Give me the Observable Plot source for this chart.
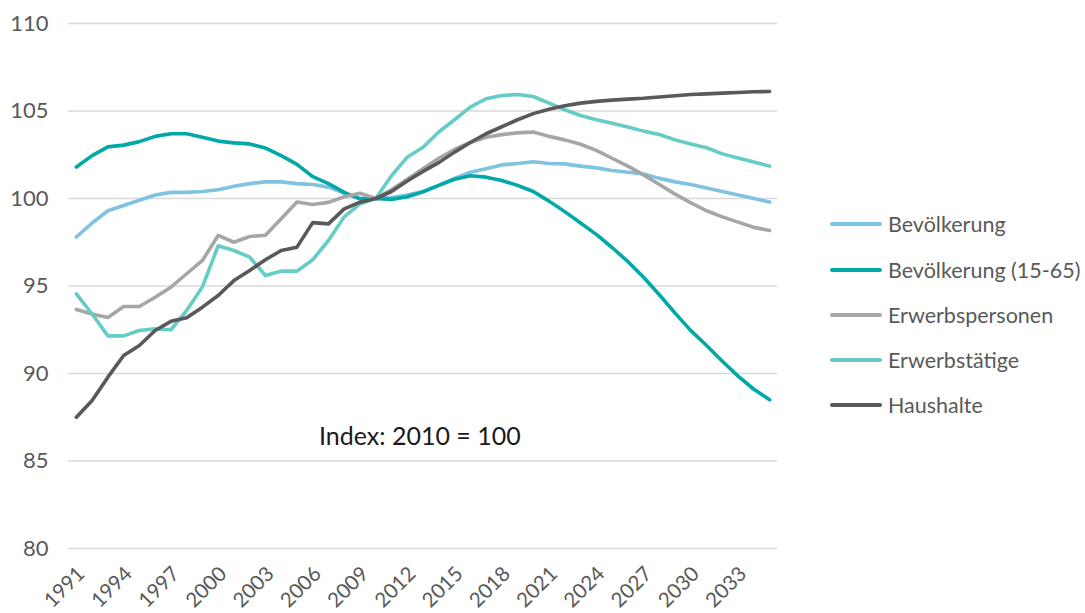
<!DOCTYPE html>
<html>
<head>
<meta charset="utf-8">
<script src="https://cdn.jsdelivr.net/npm/d3@7"></script>
<script src="https://cdn.jsdelivr.net/npm/@observablehq/plot@0.6"></script>
<style>
  html, body { margin: 0; padding: 0; background: #fff; }
  #wrap { position: relative; width: 1085px; height: 613px; font-family: Lato, "Open Sans", sans-serif; }
  #legend { position: absolute; left: 830px; top: 0; }
  .item { position: absolute; left: 0; display: flex; align-items: center; white-space: nowrap; transform: translateY(-50%); }
  .swatch { width: 52px; height: 3.5px; border-radius: 2px; margin-right: 6px; }
  .lab { font-size: 21.5px; color: #595959; }
</style>
</head>
<body>
<div id="wrap"><div id="chart"></div><div id="legend"></div></div>
<script>
const years = d3.range(1991, 2036);
const seriesNames = ["Bevölkerung", "Bevölkerung (15-65)", "Erwerbspersonen", "Erwerbstätige", "Haushalte"];
const seriesColors = ["#7fc3e0", "#00a8a8", "#a6a6a6", "#66ccc6", "#595959"];

const bevoelkerung = [97.8, 98.6, 99.3, 99.6, 99.9, 100.2, 100.35, 100.35, 100.4, 100.5,
  100.7, 100.85, 100.95, 100.95, 100.85, 100.8, 100.65, 100.3, 100.0, 100.0,
  100.05, 100.2, 100.4, 100.75, 101.15, 101.5, 101.7, 101.92, 102.0, 102.1,
  102.0, 101.98, 101.85, 101.75, 101.6, 101.5, 101.4, 101.15, 100.95, 100.8,
  100.6, 100.4, 100.2, 100.0, 99.8];
const bev1565 = [101.8, 102.45, 102.95, 103.05, 103.25, 103.55, 103.7, 103.7, 103.5, 103.28,
  103.18, 103.12, 102.88, 102.45, 101.95, 101.25, 100.85, 100.35, 99.98, 100.0,
  99.95, 100.1, 100.38, 100.75, 101.1, 101.3, 101.22, 101.03, 100.75, 100.4,
  99.85, 99.25, 98.6, 97.95, 97.2, 96.4, 95.5, 94.5, 93.45, 92.45,
  91.6, 90.7, 89.85, 89.1, 88.5];
const erwerbspersonen = [93.66, 93.4, 93.2, 93.83, 93.83, 94.36, 94.93, 95.7, 96.46, 97.89,
  97.5, 97.83, 97.9, 98.84, 99.8, 99.66, 99.78, 100.1, 100.3, 100.0,
  100.5, 101.1, 101.7, 102.3, 102.8, 103.2, 103.5, 103.65, 103.75, 103.8,
  103.55, 103.35, 103.1, 102.75, 102.3, 101.85, 101.35, 100.8, 100.25, 99.75,
  99.3, 98.95, 98.65, 98.35, 98.17];
const erwerbstaetige = [94.55, 93.4, 92.15, 92.15, 92.46, 92.55, 92.5, 93.6, 94.95, 97.3,
  97.03, 96.65, 95.6, 95.85, 95.85, 96.5, 97.6, 98.95, 99.7, 100.0,
  101.3, 102.36, 102.93, 103.8, 104.5, 105.22, 105.7, 105.89, 105.94, 105.83,
  105.45, 105.07, 104.74, 104.5, 104.3, 104.08, 103.85, 103.66, 103.35, 103.12,
  102.9, 102.55, 102.32, 102.08, 101.85];
const haushalte = [87.5, 88.46, 89.79, 91.03, 91.6, 92.46, 92.98, 93.18, 93.79, 94.46,
  95.31, 95.89, 96.5, 97.03, 97.22, 98.62, 98.55, 99.41, 99.79, 100.0,
  100.4, 101.0, 101.55, 102.05, 102.65, 103.2, 103.7, 104.1, 104.5, 104.85,
  105.1, 105.3, 105.45, 105.55, 105.62, 105.68, 105.73, 105.8, 105.87, 105.94,
  105.98, 106.02, 106.06, 106.1, 106.11];
const seriesValues = [bevoelkerung, bev1565, erwerbspersonen, erwerbstaetige, haushalte];

const yTicks = [80, 85, 90, 95, 100, 105, 110];
const xTicks = d3.range(1991, 2035, 3);
const annotation = [{year: 2012.8, value: 86.4, text: "Index: 2010 = 100"}];

const rows = [];
seriesNames.forEach((name, i) => {
  years.forEach((yr, j) => rows.push({series: name, year: yr, value: seriesValues[i][j]}));
});

const plot = Plot.plot({
  width: 1085,
  height: 613,
  marginLeft: 68,
  marginRight: 308,
  marginTop: 23,
  marginBottom: 65,
  style: {fontFamily: "Lato, 'Open Sans', sans-serif", background: "#fff"},
  x: {domain: [1990.5, 2035.5], axis: null, label: null},
  y: {domain: [80, 110], axis: null, label: null},
  color: {domain: seriesNames, range: seriesColors},
  marks: [
    Plot.ruleY(yTicks, {stroke: "#d9d9d9", strokeWidth: 1.3}),
    Plot.axisY(yTicks, {tickSize: 0, tickPadding: 20, fontSize: 22, fill: "#595959", tickFormat: d => d, label: null}),
    Plot.axisX(xTicks, {tickSize: 0, tickPadding: 6, tickRotate: -45, fontSize: 20.5, fill: "#595959", tickFormat: d => String(d), dx: 5, dy: 16, label: null}),
    ...seriesNames.map(name =>
      Plot.lineY(rows.filter(r => r.series === name), {x: "year", y: "value", stroke: "series", strokeWidth: 3.6, strokeLinejoin: "round", strokeLinecap: "round"})
    ),
    Plot.text(annotation, {x: "year", y: "value", text: "text", fontSize: 25, fill: "#1a1a1a"})
  ]
});
document.getElementById("chart").appendChild(plot);

const legendTops = [224, 270, 315, 360, 405];
const legend = document.getElementById("legend");
seriesNames.forEach((name, i) => {
  const item = document.createElement("div");
  item.className = "item";
  item.style.top = legendTops[i] + "px";
  item.innerHTML = `<div class="swatch" style="background:${seriesColors[i]}"></div><span class="lab">${name}</span>`;
  legend.appendChild(item);
});
</script>
</body>
</html>
